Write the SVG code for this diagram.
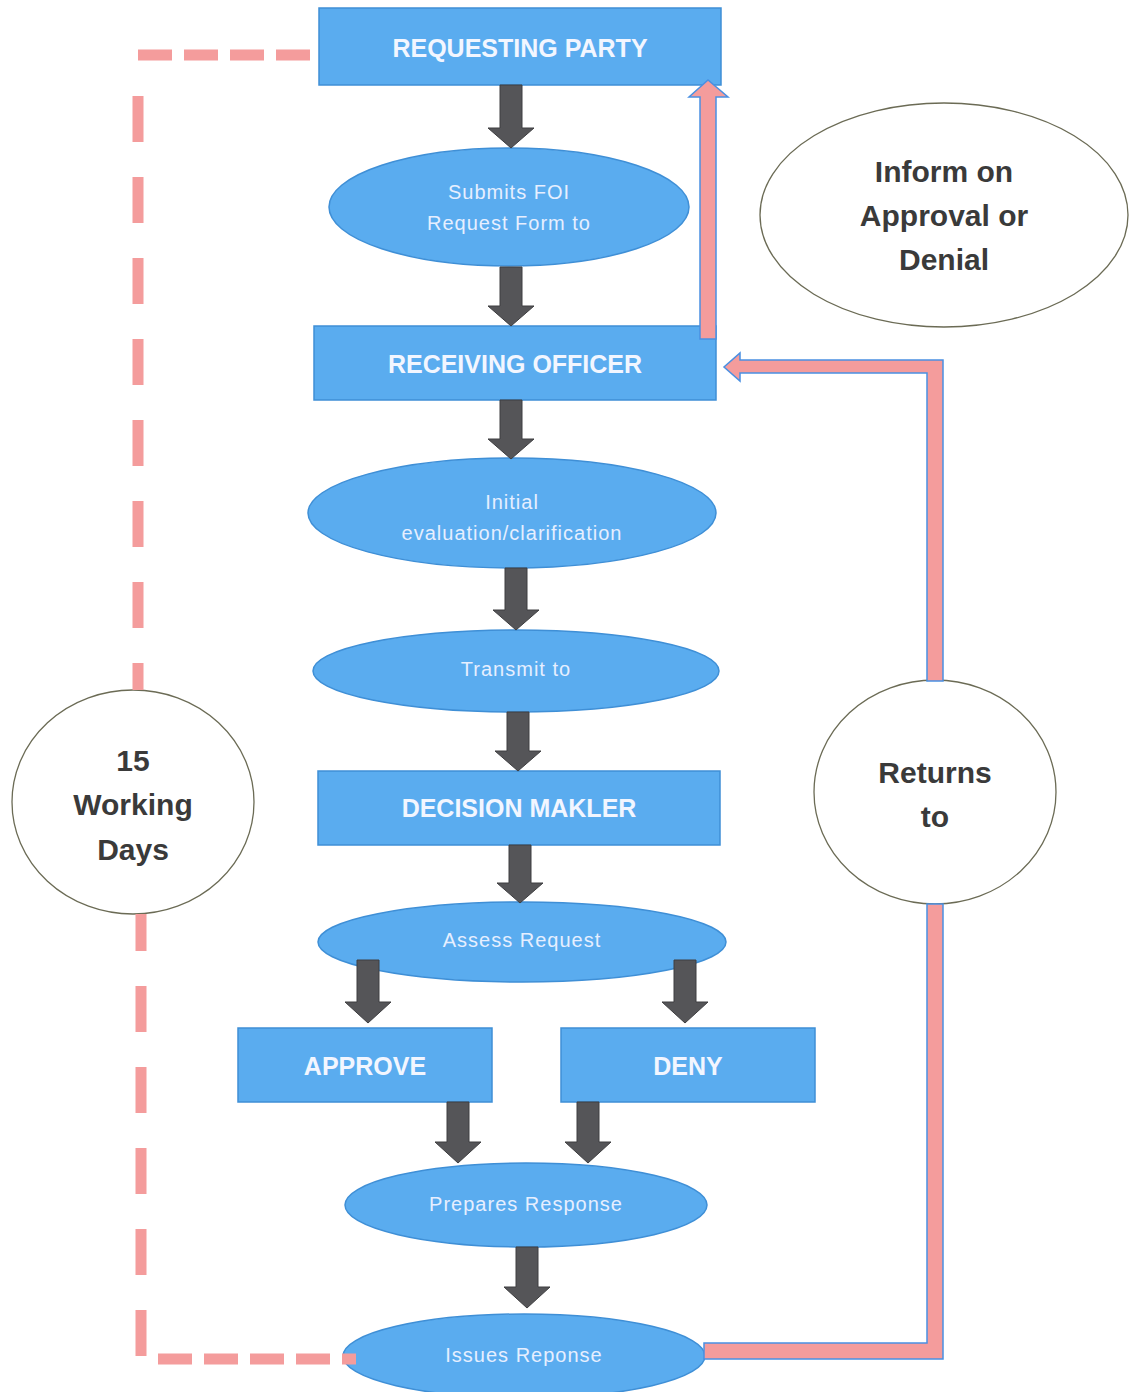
<svg xmlns="http://www.w3.org/2000/svg" width="1129" height="1392" viewBox="0 0 1129 1392">
<style>
.box{fill:#5aacef;stroke:#3f8fd6;stroke-width:1.5}
.ell{fill:#5aacef;stroke:#3f8fd6;stroke-width:1.5}
.circ{fill:#ffffff;stroke:#6b6b55;stroke-width:1.3}
.bt{font-family:"Liberation Sans",Arial,sans-serif;font-weight:bold;font-size:25px;fill:#f2f6ff;text-anchor:middle}
.et{font-family:"Liberation Sans",Arial,sans-serif;font-size:20px;letter-spacing:1px;fill:#e6efff;text-anchor:middle}
.ct{font-family:"Liberation Sans",Arial,sans-serif;font-weight:bold;font-size:30px;fill:#3a3a3a;text-anchor:middle}
.ga{fill:#555558;stroke:#3e3e40;stroke-width:1}
.ra{fill:#f49c9c;stroke:#4a90e2;stroke-width:1.5}
.dash{stroke:#f49c9c;stroke-width:11;fill:none}
</style>
<rect width="1129" height="1392" fill="#ffffff"/>

<g id="requesting-party">
<rect class="box" x="319" y="8" width="402" height="77"/>
<text class="bt" x="520" y="57">REQUESTING PARTY</text>
</g>
<g id="submits-foi">
<ellipse class="ell" cx="509" cy="207" rx="180" ry="59"/>
<text class="et" x="509" y="199">Submits FOI</text>
<text class="et" x="509" y="230">Request Form to</text>
</g>
<g id="receiving-officer">
<rect class="box" x="314" y="326" width="402" height="74"/>
<text class="bt" x="515" y="373">RECEIVING OFFICER</text>
</g>
<g id="initial-evaluation">
<ellipse class="ell" cx="512" cy="513" rx="204" ry="55"/>
<text class="et" x="512" y="509">Initial</text>
<text class="et" x="512" y="540">evaluation/clarification</text>
</g>
<g id="transmit-to">
<ellipse class="ell" cx="516" cy="671" rx="203" ry="41"/>
<text class="et" x="516" y="676">Transmit to</text>
</g>
<g id="decision-makler">
<rect class="box" x="318" y="771" width="402" height="74"/>
<text class="bt" x="519" y="817">DECISION MAKLER</text>
</g>
<g id="assess-request">
<ellipse class="ell" cx="522" cy="942" rx="204" ry="40"/>
<text class="et" x="522" y="947">Assess Request</text>
</g>
<g id="approve">
<rect class="box" x="238" y="1028" width="254" height="74"/>
<text class="bt" x="365" y="1075">APPROVE</text>
</g>
<g id="deny">
<rect class="box" x="561" y="1028" width="254" height="74"/>
<text class="bt" x="688" y="1075">DENY</text>
</g>
<g id="prepares-response">
<ellipse class="ell" cx="526" cy="1205" rx="181" ry="42"/>
<text class="et" x="526" y="1211">Prepares Response</text>
</g>
<g id="issues-reponse">
<ellipse class="ell" cx="524" cy="1356" rx="181" ry="42"/>
<text class="et" x="524" y="1362">Issues Reponse</text>
</g>
<g id="inform-note">
<ellipse class="circ" cx="944" cy="215" rx="184" ry="112"/>
<text class="ct" x="944" y="182">Inform on</text>
<text class="ct" x="944" y="226">Approval or</text>
<text class="ct" x="944" y="270">Denial</text>
</g>
<g id="working-days">
<ellipse class="circ" cx="133" cy="802" rx="121" ry="112"/>
<text class="ct" x="133" y="771">15</text>
<text class="ct" x="133" y="815">Working</text>
<text class="ct" x="133" y="860">Days</text>
</g>
<g id="returns-to">
<ellipse class="circ" cx="935" cy="792" rx="121" ry="112"/>
<text class="ct" x="935" y="783">Returns</text>
<text class="ct" x="935" y="827">to</text>
</g>

<g id="connectors">
<polygon class="ga" points="500,85 522,85 522,128 534,128 511,148 488,128 500,128"/>
<polygon class="ga" points="500,267 522,267 522,306 534,306 511,326 488,306 500,306"/>
<polygon class="ga" points="500,400 522,400 522,439 534,439 511,459 488,439 500,439"/>
<polygon class="ga" points="505,568 527,568 527,610 539,610 516,630 493,610 505,610"/>
<polygon class="ga" points="507,712 529,712 529,751 541,751 518,771 495,751 507,751"/>
<polygon class="ga" points="509,845 531,845 531,883 543,883 520,903 497,883 509,883"/>
<polygon class="ga" points="357,960 379,960 379,1002 391,1002 368,1023 345,1002 357,1002"/>
<polygon class="ga" points="674,960 696,960 696,1002 708,1002 685,1023 662,1002 674,1002"/>
<polygon class="ga" points="447,1102 469,1102 469,1142 481,1142 458,1163 435,1142 447,1142"/>
<polygon class="ga" points="577,1102 599,1102 599,1142 611,1142 588,1163 565,1142 577,1142"/>
<polygon class="ga" points="516,1247 538,1247 538,1287 550,1287 527,1308 504,1287 516,1287"/>

<polygon class="ra" points="700,339 700,97 689,97 708,80 728,97 716,97 716,339"/>
<polygon class="ra" points="927,681 927,373 740,373 740,381 724,367 740,353 740,360 943,360 943,681"/>
<polygon class="ra" points="704,1343 927,1343 927,904 943,904 943,1359 704,1359"/>

<line class="dash" x1="310" y1="55" x2="133" y2="55" stroke-dasharray="34 12"/>
<line class="dash" x1="138" y1="96" x2="138" y2="690" stroke-dasharray="46 35"/>
<line class="dash" x1="141" y1="914" x2="141" y2="1358" stroke-dasharray="46 35" stroke-dashoffset="9"/>
<line class="dash" x1="158" y1="1359" x2="356" y2="1359" stroke-dasharray="34 12"/>
</g>
</svg>
